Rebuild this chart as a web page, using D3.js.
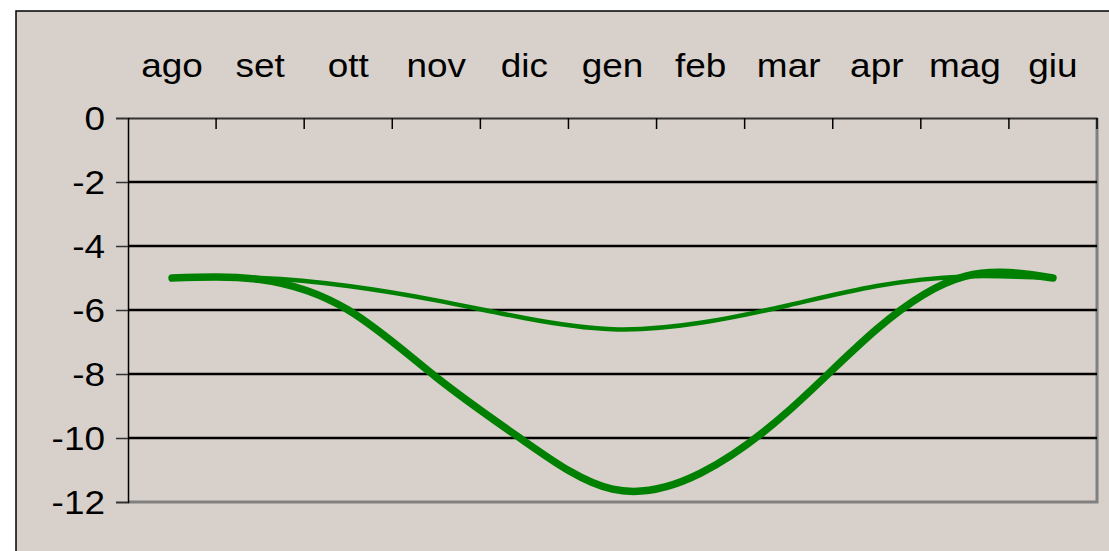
<!DOCTYPE html>
<html>
<head>
<meta charset="utf-8">
<script src="https://cdn.jsdelivr.net/npm/d3@7"></script>
<style>
  html, body { margin: 0; padding: 0; background: #ffffff; }
  svg { display: block; }
  text { font-family: "Liberation Sans", Arial, sans-serif; fill: #000; }
</style>
</head>
<body>
<script>
// Months, August to June
const months = ["ago", "set", "ott", "nov", "dic", "gen", "feb", "mar", "apr", "mag", "giu"];
// Deep curve (thick line)
const seriesDeep = [-5.0, -5.05, -6.0, -8.1, -10.1, -11.6, -11.1, -9.15, -6.6, -4.95, -5.0];
// Shallow curve (thin line)
const seriesShallow = [-5.0, -5.0, -5.25, -5.7, -6.25, -6.6, -6.4, -5.85, -5.25, -4.95, -5.0];
// Value axis ticks
const yTicks = [0, -2, -4, -6, -8, -10, -12];

const W = 1109, H = 551;
const plot = { left: 128, top: 118, right: 1097, bottom: 502 };
const fontSize = 33, stretch = 1.12;

const svg = d3.select("body").append("svg").attr("width", W).attr("height", H);

// chart area with its frame
svg.append("rect").attr("x", 16).attr("y", 11).attr("width", W + 10).attr("height", H + 10)
  .attr("fill", "#d8d0ca").attr("stroke", "#000").attr("stroke-width", 1.5);

const x = d3.scaleBand().domain(months).range([plot.left, plot.right]).paddingInner(0).paddingOuter(0);
const y = d3.scaleLinear().domain([-12, 0]).range([plot.bottom, plot.top]);

// plot area shadow (right and bottom)
svg.append("path")
  .attr("d", `M${plot.right},${plot.top} V${plot.bottom} H${plot.left}`)
  .attr("fill", "none").attr("stroke", "#808080").attr("stroke-width", 3);

// horizontal gridlines
svg.append("g").selectAll("line")
  .data(yTicks.filter(v => v !== 0 && v !== -12))
  .join("line")
  .attr("x1", plot.left).attr("x2", plot.right)
  .attr("y1", d => y(d)).attr("y2", d => y(d))
  .attr("stroke", "#000").attr("stroke-width", 2.5);

// category axis along the top, ticks pointing into the plot
const xAxis = d3.axisTop(x).tickSize(0).tickFormat("");
svg.append("g").attr("transform", `translate(0,${plot.top})`).call(xAxis)
  .call(g => g.select(".domain").attr("stroke", "#333").attr("stroke-width", 2));
const bounds = months.map(m => x(m)).concat([plot.right]);
svg.append("g").selectAll("line").data(bounds.slice(1)).join("line")
  .attr("x1", d => d).attr("x2", d => d)
  .attr("y1", plot.top).attr("y2", plot.top + 11)
  .attr("stroke", "#000").attr("stroke-width", 1.5);

svg.append("g").selectAll("text").data(months).join("text")
  .attr("text-anchor", "middle")
  .attr("font-size", fontSize)
  .attr("transform", d => `translate(${x(d) + x.bandwidth() / 2},77) scale(${stretch},1)`)
  .text(d => d);

// value axis on the left
const yAxis = d3.axisLeft(y).tickValues(yTicks).tickSize(12).tickFormat("");
svg.append("g").attr("transform", `translate(${plot.left},0)`).call(yAxis)
  .call(g => g.select(".domain").attr("stroke", "#000").attr("stroke-width", 1.5))
  .call(g => g.selectAll(".tick line").attr("stroke", "#333").attr("stroke-width", 1.5));

svg.append("g").selectAll("text").data(yTicks).join("text")
  .attr("text-anchor", "end")
  .attr("font-size", fontSize)
  .attr("transform", d => `translate(105,${y(d) + 12}) scale(${stretch},1)`)
  .text(d => d3.format("d")(d).replace("−", "-"));

// smoothed series lines
const line = d3.line()
  .x((d, i) => x(months[i]) + x.bandwidth() / 2)
  .y(d => y(d))
  .curve(d3.curveNatural);

svg.append("path").datum(seriesShallow).attr("d", line)
  .attr("fill", "none").attr("stroke", "#008000").attr("stroke-width", 4.5)
  .attr("stroke-linecap", "round").attr("stroke-linejoin", "round");
svg.append("path").datum(seriesDeep).attr("d", line)
  .attr("fill", "none").attr("stroke", "#008000").attr("stroke-width", 7.5)
  .attr("stroke-linecap", "round").attr("stroke-linejoin", "round");
</script>
</body>
</html>
